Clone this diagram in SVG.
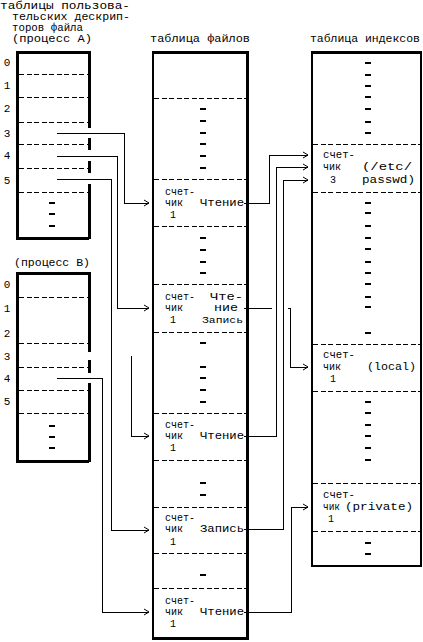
<svg xmlns="http://www.w3.org/2000/svg" width="423" height="642" viewBox="0 0 423 642">
<style>
text{font-family:"Liberation Mono","DejaVu Sans Mono",monospace;font-size:11px;fill:#000}
.e{font-size:10px}
.sm{font-size:9px}
.box{fill:none;stroke:#000;stroke-width:3}
.thin{fill:none;stroke:#000;stroke-width:2}
.dsh{stroke:#000;stroke-width:1;stroke-dasharray:5 2.5}
.tick{stroke:#000;stroke-width:1.5}
.con{fill:none;stroke:#000;stroke-width:1}
</style>
<defs>
<marker id="ar" markerUnits="userSpaceOnUse" markerWidth="8" markerHeight="8" refX="6" refY="4" orient="auto">
<path d="M1,1 L6,4 L1,7" fill="none" stroke="#000" stroke-width="1"/>
</marker>
</defs>
<rect width="423" height="642" fill="#fff"/>

<g id="tableA" shape-rendering="crispEdges">
<text x="0" y="9" textLength="130" lengthAdjust="spacingAndGlyphs">таблицы пользова-</text>
<text x="12" y="20" textLength="118" lengthAdjust="spacingAndGlyphs">тельских дескрип-</text>
<text x="12" y="31" textLength="71" lengthAdjust="spacingAndGlyphs">торов файла</text>
<text x="12" y="42" textLength="80" lengthAdjust="spacingAndGlyphs">(процесс A)</text>
<path class="box" d="M89 52 H17 V238 H89"/>
<path class="box" d="M89 51 V128 M89 138 V150 M89 161 V173 M89 184 V239"/>
<path class="dsh" d="M19 74 H88 M19 97 H88 M19 122 H88 M19 144 H88 M19 168 H88 M19 192 H88"/>
<path class="tick" d="M49 203 H55 M49 214 H55 M49 226 H55"/>
<text x="7" y="66" text-anchor="middle">0</text>
<text x="7" y="89" text-anchor="middle">1</text>
<text x="7" y="112" text-anchor="middle">2</text>
<text x="7" y="137" text-anchor="middle">3</text>
<text x="7" y="159" text-anchor="middle">4</text>
<text x="7" y="184" text-anchor="middle">5</text>
</g>

<g id="tableB" shape-rendering="crispEdges">
<text x="14" y="266" textLength="76" lengthAdjust="spacingAndGlyphs">(процесс B)</text>
<path class="box" d="M89 273 H17 V461 H89"/>
<path class="box" d="M89 272 V352 M89 360 V373 M89 383 V462"/>
<path class="dsh" d="M19 297 H88 M19 343 H88 M19 367 H88 M19 390 H88 M19 413 H88"/>
<path class="tick" d="M49 426 H55 M49 437 H55 M49 448 H55"/>
<text x="7" y="288" text-anchor="middle">0</text>
<text x="7" y="312" text-anchor="middle">1</text>
<text x="7" y="337" text-anchor="middle">2</text>
<text x="7" y="360" text-anchor="middle">3</text>
<text x="7" y="382" text-anchor="middle">4</text>
<text x="7" y="405" text-anchor="middle">5</text>
</g>

<g id="fileTable" shape-rendering="crispEdges">
<text x="150" y="42" textLength="100" lengthAdjust="spacingAndGlyphs">таблица файлов</text>
<path class="thin" d="M153 52 V638"/>
<path class="box" d="M152 52 H247 V638 H152"/>
<path class="dsh" d="M154 98 H246 M154 179 H246 M154 226 H246 M154 284 H246 M154 332 H246 M154 413 H246 M154 460 H246 M154 507 H246 M154 553 H246 M154 588 H246"/>
<path class="tick" d="M200 109 H206 M200 121 H206 M200 133 H206 M200 144 H206 M200 156 H206 M200 168 H206 M200 238 H206 M200 250 H206 M200 262 H206 M200 273 H206 M200 343 H206 M200 367 H206 M200 378 H206 M200 390 H206 M200 402 H206 M200 483 H206 M200 495 H206 M200 575 H206"/>
</g>
<g id="file1" class="e">
<text class="e" x="165" y="195" textLength="30" lengthAdjust="spacingAndGlyphs">счет-</text>
<text class="e" x="165" y="206">чик</text>
<text class="e" x="170" y="218">1</text>
<text class="e" x="200" y="206" textLength="44" lengthAdjust="spacingAndGlyphs">Чтение</text>
</g>
<g id="file2">
<text class="e" x="165" y="300" textLength="30" lengthAdjust="spacingAndGlyphs">счет-</text>
<text class="e" x="165" y="311">чик</text>
<text class="e" x="170" y="323">1</text>
<text class="e" x="210" y="300" textLength="33" lengthAdjust="spacingAndGlyphs">Чте-</text>
<text class="e" x="214" y="311" textLength="24" lengthAdjust="spacingAndGlyphs">ние</text>
<text class="sm" x="202" y="323" textLength="41" lengthAdjust="spacingAndGlyphs">Запись</text>
</g>
<g id="file3">
<text class="e" x="165" y="428" textLength="30" lengthAdjust="spacingAndGlyphs">счет-</text>
<text class="e" x="165" y="439">чик</text>
<text class="e" x="170" y="451">1</text>
<text class="e" x="200" y="439" textLength="44" lengthAdjust="spacingAndGlyphs">Чтение</text>
</g>
<g id="file4">
<text class="e" x="165" y="521" textLength="30" lengthAdjust="spacingAndGlyphs">счет-</text>
<text class="e" x="165" y="532">чик</text>
<text class="e" x="170" y="545">1</text>
<text class="e" x="200" y="532" textLength="44" lengthAdjust="spacingAndGlyphs">Запись</text>
</g>
<g id="file5">
<text class="e" x="165" y="604" textLength="30" lengthAdjust="spacingAndGlyphs">счет-</text>
<text class="e" x="165" y="615">чик</text>
<text class="e" x="170" y="627">1</text>
<text class="e" x="200" y="615" textLength="44" lengthAdjust="spacingAndGlyphs">Чтение</text>
</g>

<g id="inodeTable" shape-rendering="crispEdges">
<text x="310" y="42" textLength="110" lengthAdjust="spacingAndGlyphs">таблица индексов</text>
<path class="thin" d="M312 52 V566 H421 V52"/>
<path class="box" d="M311 52 H422"/>
<path class="dsh" d="M313 144 H420 M313 192 H420 M313 344 H420 M313 391 H420 M313 483 H420 M313 531 H420"/>
<path class="tick" d="M365 63 H371 M365 75 H371 M365 86 H371 M365 97 H371 M365 109 H371 M365 122 H371 M365 133 H371 M365 203 H371 M365 213 H371 M365 226 H371 M365 238 H371 M365 249 H371 M365 262 H371 M365 273 H371 M365 284 H371 M365 297 H371 M365 307 H371 M365 333 H371 M365 402 H371 M365 413 H371 M365 425 H371 M365 436 H371 M365 448 H371 M365 460 H371 M365 543 H371 M365 554 H371"/>
</g>
<g id="inode1">
<text class="e" x="323" y="158" textLength="32" lengthAdjust="spacingAndGlyphs">счет-</text>
<text class="e" x="323" y="170">чик</text>
<text class="e" x="330" y="183">3</text>
<text class="e" x="362" y="170" textLength="50" lengthAdjust="spacingAndGlyphs">(/etc/</text>
<text class="e" x="362" y="183" textLength="53" lengthAdjust="spacingAndGlyphs">passwd)</text>
</g>
<g id="inode2">
<text class="e" x="323" y="358" textLength="32" lengthAdjust="spacingAndGlyphs">счет-</text>
<text class="e" x="323" y="370">чик</text>
<text class="e" x="330" y="382">1</text>
<text class="e" x="367" y="370" textLength="49" lengthAdjust="spacingAndGlyphs">(local)</text>
</g>
<g id="inode3">
<text class="e" x="323" y="498" textLength="32" lengthAdjust="spacingAndGlyphs">счет-</text>
<text class="e" x="323" y="510" textLength="17" lengthAdjust="spacingAndGlyphs">чик</text>
<text class="e" x="328" y="522">1</text>
<text class="e" x="345" y="510" textLength="68" lengthAdjust="spacingAndGlyphs">(private)</text>
</g>

<g id="connectors" class="con" shape-rendering="crispEdges">
<path class="con" d="M57 133 H124 V203 H149" marker-end="url(#ar)"/>
<path class="con" d="M57 156 H117 V308 H149" marker-end="url(#ar)"/>
<path class="con" d="M57 179 H111 V530 H149" marker-end="url(#ar)"/>
<path class="con" d="M131 356 V436 H149" marker-end="url(#ar)"/>
<path class="con" d="M57 378 H102 V612 H149" marker-end="url(#ar)"/>
<path class="con" d="M244 203 H269 V155 H308" marker-end="url(#ar)"/>
<path class="con" d="M244 436 H276 V167 H308" marker-end="url(#ar)"/>
<path class="con" d="M244 529 H283 V180 H308" marker-end="url(#ar)"/>
<path class="con" d="M244 308 H272"/>
<path class="con" d="M288 308 H290 V367 H308" marker-end="url(#ar)"/>
<path class="con" d="M244 612 H291 V507 H308" marker-end="url(#ar)"/>
</g>
</svg>
